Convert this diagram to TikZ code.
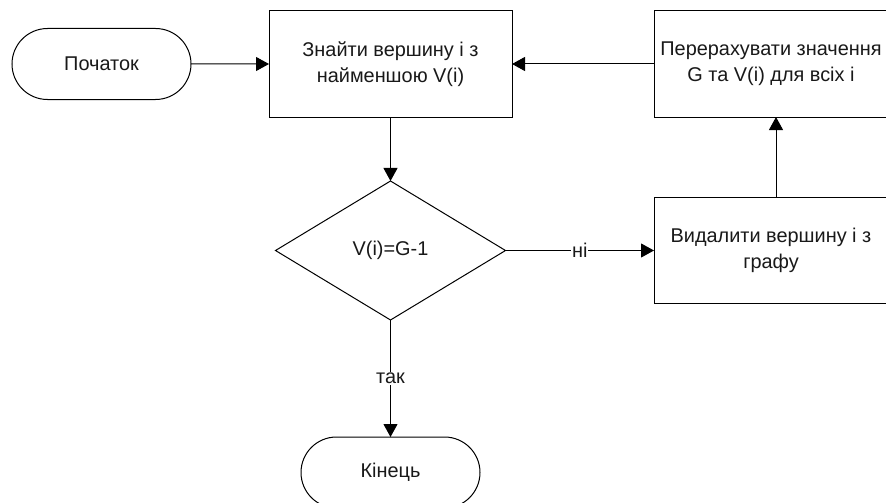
\documentclass[tikz,border=0pt]{standalone}
\usepackage{fontspec}
\setmainfont{Liberation Sans}
\usetikzlibrary{shapes.geometric,shapes.misc,arrows.meta}
\begin{document}
\begin{tikzpicture}[x=1pt,y=-1pt,
  every node/.style={font=\fontsize{19.9}{26}\selectfont, text=black!90, align=center, inner sep=0pt, outer sep=0pt},
  shapeline/.style={draw=black, line width=1pt},
  terminal/.style={shapeline, rounded rectangle, minimum width=179pt, minimum height=71pt},
  process/.style={shapeline, rectangle, minimum width=234pt, minimum height=106pt},
  decision/.style={shapeline, diamond, minimum width=230pt, minimum height=139pt},
  arr/.style={draw=black, line width=1pt, -{Triangle[length=13pt,width=14pt]}},
  lbl/.style={fill=white, inner sep=1pt}]
  \useasboundingbox (0,0) rectangle (886,503);
  \clip (0,0) rectangle (886,503);
  \fill[white] (0,0) rectangle (886,503);

  % flowchart blocks
  \node[terminal] (start) at (101.5,64) {Початок};
  \node[process, minimum width=243pt] (find) at (390.5,64) {Знайти вершину і з\\ найменшою V(i)};
  \node[process] (recalc) at (771,64) {Перерахувати значення\\ G та V(i) для всіх і};
  \node[decision] (check) at (390.5,250.5) {V(i)=G-1};
  \node[process] (del) at (771,250) {Видалити вершину і з\\ графу};
  \node[terminal] (end) at (390.5,472.5) {Кінець};

  % connectors
  \draw[arr] (start) -- (find);
  \draw[arr] (recalc) -- (find);
  \draw[arr] (find) -- (check);
  \draw[arr] (check.east) -- node[lbl] {ні} (check.east -| del.west);
  \draw[arr] ([xshift=5pt]del.north) -- ([xshift=5pt]recalc.south);
  \draw[arr] (check) -- node[lbl] {так} (end);
\end{tikzpicture}
\end{document}
